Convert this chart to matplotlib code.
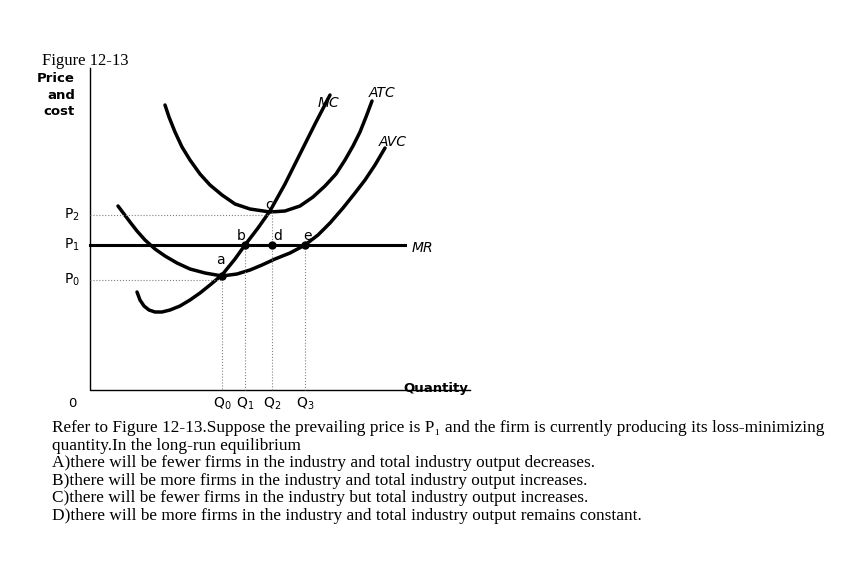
import matplotlib
matplotlib.use("Agg")
import matplotlib.pyplot as plt

# curve samples (pixel-space: x=quantity position, y=price position, y downward)
mc_x = [137,140,144,149,155,162,170,180,190,200,210,222,235,245,258,270,285,300,315,330]
mc_y = [292,300,306,310,312,312,310,306,300,293,285,275,259,245,228,211,184,154,124,95]
avc_x = [118,124,130,137,145,155,165,177,190,205,222,237,250,262,275,290,305,318,330,343,355,365,375,385]
avc_y = [206,214,222,231,240,249,256,263,269,273,276,274,270,265,259,253,245,235,223,208,193,180,165,148]
atc_x = [165,169,175,182,190,200,210,222,235,250,270,285,300,313,325,336,345,353,360,366,372]
atc_y = [105,117,132,147,160,174,185,195,204,209,212,211,206,197,186,174,160,146,132,117,101]
p_labels = ["P$_2$", "P$_1$", "P$_0$"]
p_levels = [215, 245, 280]
q_labels = ["Q$_0$", "Q$_1$", "Q$_2$", "Q$_3$"]
q_levels = [222, 245, 272, 305]
points = {"a": (222, 276), "b": (245, 245), "c": (270, 212), "d": (272, 245), "e": (305, 245)}
question = ["Refer to Figure 12-13.Suppose the prevailing price is P\u2081 and the firm is currently producing its loss-minimizing",
            "quantity.In the long-run equilibrium",
            "A)there will be fewer firms in the industry and total industry output decreases.",
            "B)there will be more firms in the industry and total industry output increases.",
            "C)there will be fewer firms in the industry but total industry output increases.",
            "D)there will be more firms in the industry and total industry output remains constant."]

fig = plt.figure(figsize=(8.52, 5.69), dpi=100)
ax = fig.add_axes([0, 0, 1, 1])
ax.set_xlim(0, 852); ax.set_ylim(569, 0); ax.axis("off")

ax.plot([90, 90, 470], [68, 390, 390], color="black", lw=1)
for x, y in [(mc_x, mc_y), (avc_x, avc_y), (atc_x, atc_y)]:
    ax.plot(x, y, color="black", lw=2.5, solid_capstyle="round", solid_joinstyle="round")
ax.plot([90, 405], [245, 245], color="black", lw=2.2)
for lab, y in zip(p_labels, p_levels):
    ax.text(72, y, lab, fontsize=10, ha="center", va="center")
ax.plot([90, 270], [215, 215], color="gray", lw=0.8, ls=":")
ax.plot([90, 222], [280, 280], color="gray", lw=0.8, ls=":")
tops = [276, 245, 212, 245]
for lab, x, t in zip(q_labels, q_levels, tops):
    ax.plot([x, x], [t, 390], color="gray", lw=0.8, ls=":")
    ax.text(x, 404, lab, fontsize=10, ha="center", va="center")
for k, (x, y) in points.items():
    if k != "c":
        ax.plot(x, y, "o", color="black", ms=5)
ax.text(220, 264, "a", fontsize=10, ha="center"); ax.text(241, 240, "b", fontsize=10, ha="center")
ax.text(269, 209, "c", fontsize=10, ha="center"); ax.text(278, 240, "d", fontsize=10, ha="center")
ax.text(308, 240, "e", fontsize=10, ha="center")
ax.text(328, 103, "MC", fontsize=10, style="italic", ha="center", va="center")
ax.text(382, 93, "ATC", fontsize=10, style="italic", ha="center", va="center")
ax.text(393, 142, "AVC", fontsize=10, style="italic", ha="center", va="center")
ax.text(422, 248, "MR", fontsize=10, style="italic", ha="center", va="center")
ax.text(75, 78, "Price", fontsize=9.5, weight="bold", ha="right", va="center")
ax.text(75, 95, "and", fontsize=9.5, weight="bold", ha="right", va="center")
ax.text(75, 111, "cost", fontsize=9.5, weight="bold", ha="right", va="center")
ax.text(72, 403, "0", fontsize=9.5, ha="center", va="center")
ax.text(436, 388, "Quantity", fontsize=9.5, weight="bold", ha="center", va="center")
ax.text(42, 61, "Figure 12-13", fontsize=12, family="Liberation Serif", va="center")
for i, line in enumerate(question):
    ax.text(52, 428 + i * 17.5, line, fontsize=12.4, family="Liberation Serif", va="center")
fig.savefig("out.png", dpi=100)
